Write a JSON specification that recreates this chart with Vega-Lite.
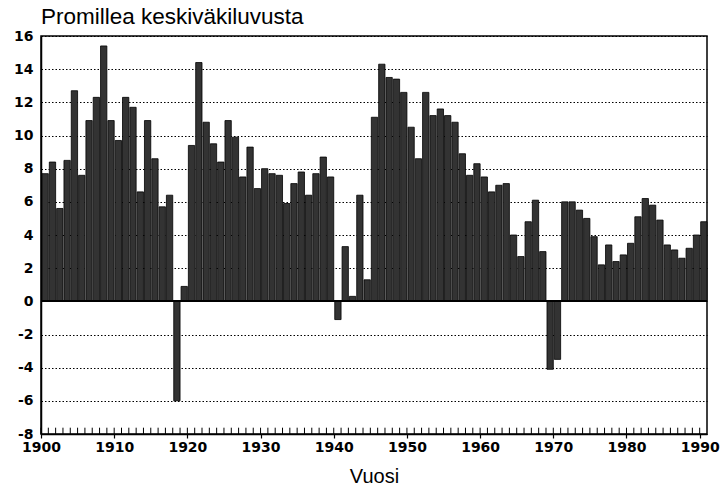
{
  "$schema": "https://vega.github.io/schema/vega-lite/v6.json",
  "width": 666,
  "height": 398,
  "autosize": {"type": "none"},
  "padding": {"left": 41, "top": 36, "right": 19, "bottom": 59},
  "background": "white",
  "title": {
    "text": "Promillea keskiväkiluvusta",
    "anchor": "start",
    "frame": "group",
    "font": "Liberation Sans",
    "fontSize": 22.5,
    "fontWeight": "normal",
    "color": "black",
    "baseline": "alphabetic",
    "offset": -17
  },
  "config": {
    "view": {"stroke": "black", "strokeWidth": 1.5},
    "axisY": {
      "labelFont": "DejaVu Sans",
      "labelFontWeight": "bold",
      "labelFontSize": 14,
      "labelColor": "black",
      "labelPadding": 8,
      "labelOverlap": false,
      "ticks": false,
      "domainColor": "black",
      "domainWidth": 1.5,
      "grid": true,
      "gridColor": "black",
      "gridDash": [1.5, 2],
      "gridWidth": 1,
      "gridOpacity": 1
    }
  },
  "data": {
    "values": [
      {"year": 1900, "value": 7.7}, {"year": 1901, "value": 8.4}, {"year": 1902, "value": 5.6}, {"year": 1903, "value": 8.5},
      {"year": 1904, "value": 12.7}, {"year": 1905, "value": 7.6}, {"year": 1906, "value": 10.9}, {"year": 1907, "value": 12.3},
      {"year": 1908, "value": 15.4}, {"year": 1909, "value": 10.9}, {"year": 1910, "value": 9.7}, {"year": 1911, "value": 12.3},
      {"year": 1912, "value": 11.7}, {"year": 1913, "value": 6.6}, {"year": 1914, "value": 10.9}, {"year": 1915, "value": 8.6},
      {"year": 1916, "value": 5.7}, {"year": 1917, "value": 6.4}, {"year": 1918, "value": -6.0}, {"year": 1919, "value": 0.9},
      {"year": 1920, "value": 9.4}, {"year": 1921, "value": 14.4}, {"year": 1922, "value": 10.8}, {"year": 1923, "value": 9.5},
      {"year": 1924, "value": 8.4}, {"year": 1925, "value": 10.9}, {"year": 1926, "value": 9.9}, {"year": 1927, "value": 7.5},
      {"year": 1928, "value": 9.3}, {"year": 1929, "value": 6.8}, {"year": 1930, "value": 8.0}, {"year": 1931, "value": 7.7},
      {"year": 1932, "value": 7.6}, {"year": 1933, "value": 5.9}, {"year": 1934, "value": 7.1}, {"year": 1935, "value": 7.8},
      {"year": 1936, "value": 6.4}, {"year": 1937, "value": 7.7}, {"year": 1938, "value": 8.7}, {"year": 1939, "value": 7.5},
      {"year": 1940, "value": -1.1}, {"year": 1941, "value": 3.3}, {"year": 1942, "value": 0.3}, {"year": 1943, "value": 6.4},
      {"year": 1944, "value": 1.3}, {"year": 1945, "value": 11.1}, {"year": 1946, "value": 14.3}, {"year": 1947, "value": 13.5},
      {"year": 1948, "value": 13.4}, {"year": 1949, "value": 12.6}, {"year": 1950, "value": 10.5}, {"year": 1951, "value": 8.6},
      {"year": 1952, "value": 12.6}, {"year": 1953, "value": 11.2}, {"year": 1954, "value": 11.6}, {"year": 1955, "value": 11.2},
      {"year": 1956, "value": 10.8}, {"year": 1957, "value": 8.9}, {"year": 1958, "value": 7.6}, {"year": 1959, "value": 8.3},
      {"year": 1960, "value": 7.5}, {"year": 1961, "value": 6.6}, {"year": 1962, "value": 7.0}, {"year": 1963, "value": 7.1},
      {"year": 1964, "value": 4.0}, {"year": 1965, "value": 2.7}, {"year": 1966, "value": 4.8}, {"year": 1967, "value": 6.1},
      {"year": 1968, "value": 3.0}, {"year": 1969, "value": -4.1}, {"year": 1970, "value": -3.5}, {"year": 1971, "value": 6.0},
      {"year": 1972, "value": 6.0}, {"year": 1973, "value": 5.5}, {"year": 1974, "value": 5.0}, {"year": 1975, "value": 3.9},
      {"year": 1976, "value": 2.2}, {"year": 1977, "value": 3.4}, {"year": 1978, "value": 2.4}, {"year": 1979, "value": 2.8},
      {"year": 1980, "value": 3.5}, {"year": 1981, "value": 5.1}, {"year": 1982, "value": 6.2}, {"year": 1983, "value": 5.8},
      {"year": 1984, "value": 4.9}, {"year": 1985, "value": 3.4}, {"year": 1986, "value": 3.1}, {"year": 1987, "value": 2.6},
      {"year": 1988, "value": 3.2}, {"year": 1989, "value": 4.0}, {"year": 1990, "value": 4.8}
    ]
  },
  "resolve": {"axis": {"x": "independent"}},
  "layer": [
    {
      "mark": {"type": "bar", "fill": "#333333", "stroke": "black", "strokeWidth": 0.8},
      "encoding": {
        "x": {
          "field": "year",
          "type": "quantitative",
          "bin": {"step": 1, "extent": [1900, 1991]},
          "scale": {"domain": [1900, 1991], "nice": false, "zero": false},
          "axis": {
            "values": [1900, 1910, 1920, 1930, 1940, 1950, 1960, 1970, 1980, 1990],
            "format": "d",
            "labelFont": "DejaVu Sans",
            "labelFontWeight": "bold",
            "labelFontSize": 14,
            "labelColor": "black",
            "labelFlush": false,
            "labelOverlap": false,
            "labelPadding": 2,
            "tickSize": 4,
            "tickWidth": 1.2,
            "tickColor": "black",
            "domainColor": "black",
            "domainWidth": 1.5,
            "grid": false,
            "title": "Vuosi",
            "titleFont": "Liberation Sans",
            "titleFontSize": 20,
            "titleFontWeight": "normal",
            "titleColor": "black",
            "titlePadding": 12
          }
        },
        "y": {
          "field": "value",
          "type": "quantitative",
          "scale": {"domain": [-8, 16], "nice": false},
          "axis": {
            "values": [-8, -6, -4, -2, 0, 2, 4, 6, 8, 10, 12, 14, 16],
            "labelExpr": "'' + datum.value",
            "title": null
          }
        }
      }
    },
    {
      "mark": {"type": "rule", "color": "black", "strokeWidth": 1},
      "encoding": {
        "x": {"field": "year", "type": "quantitative", "axis": null},
        "y": {"datum": -8, "axis": {"values": [-8, -6, -4, -2, 0, 2, 4, 6, 8, 10, 12, 14, 16], "labelExpr": "'' + datum.value", "title": null}},
        "y2": {"datum": -7.62}
      }
    },
    {
      "mark": {"type": "rule", "color": "black", "strokeWidth": 1.2},
      "encoding": {
        "y": {"datum": 0, "axis": {"values": [-8, -6, -4, -2, 0, 2, 4, 6, 8, 10, 12, 14, 16], "labelExpr": "'' + datum.value", "title": null}}
      }
    }
  ]
}
